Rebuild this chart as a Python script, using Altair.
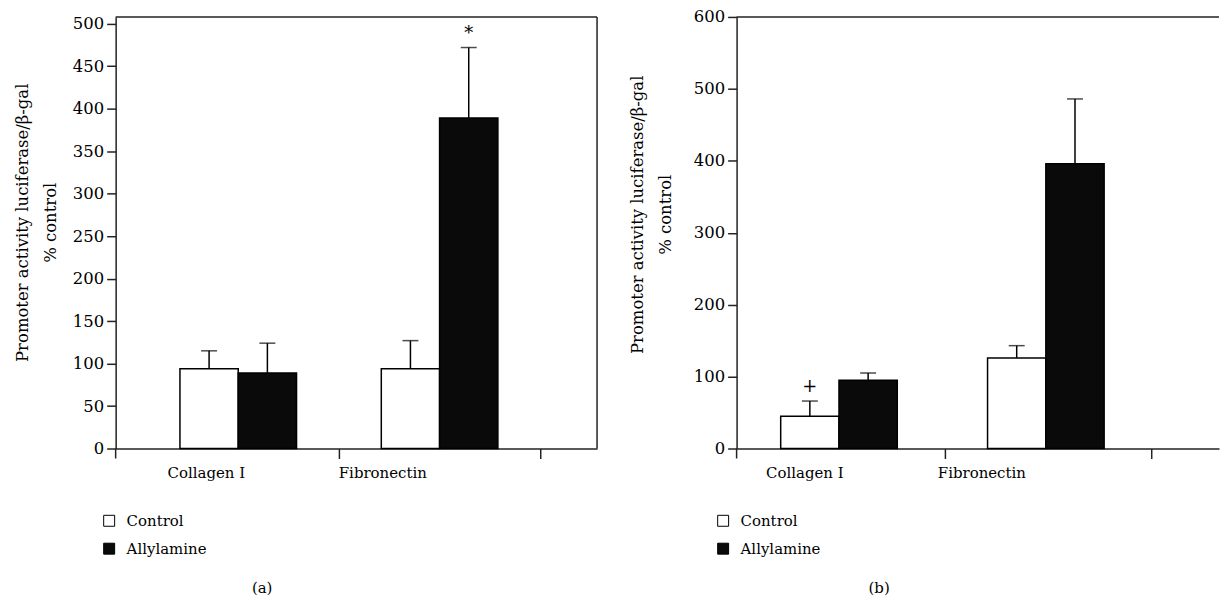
import altair as alt
import pandas as pd

FONT = "DejaVu Serif"

categories = ["Collagen I", "Collagen I", "Fibronectin", "Fibronectin"]
treatments = ["Control", "Allylamine", "Control", "Allylamine"]

a_means = [94, 89, 94, 389]
a_upper = [115, 124, 127, 472]
a_marks = ["", "", "", "*"]

b_means = [45, 95, 126, 396]
b_upper = [66, 105, 143, 486]
b_marks = ["+", "", "", ""]

a_ticks = [0, 50, 100, 150, 200, 250, 300, 350, 400, 450, 500]
b_ticks = [0, 100, 200, 300, 400, 500, 600]

y_title = ["Promoter activity luciferase/β-gal", "% control"]
cat_order = ["Collagen I", "Fibronectin"]
trt_order = ["Control", "Allylamine"]
fill_colors = ["white", "#0a0a0a"]

H = 433


def panel(means, upper, marks, ymax, ticks, width, pad_outer, align,
          off_coll, off_fib, leg_x, caption, cap_x, title_pad, title_y):
    df = pd.DataFrame({"category": categories, "treatment": treatments,
                       "mean": means, "upper": upper, "mark": marks})
    xs = alt.Scale(paddingInner=0, paddingOuter=pad_outer, align=align)
    x = alt.X("category:N", sort=cat_order, scale=xs,
              axis=alt.Axis(title=None, bandPosition=1, labelAngle=0,
                            labelOffset={"condition": {"test": "datum.value === 'Collagen I'",
                                                       "value": off_coll},
                                         "value": off_fib},
                            tickSize=10, labelPadding=7, labelFontSize=15))
    xo = alt.XOffset("treatment:N", sort=trt_order,
                     scale=alt.Scale(paddingInner=0, paddingOuter=0.727))
    yaxis = alt.Axis(values=ticks, title=y_title, tickSize=9, labelPadding=3,
                     titlePadding=title_pad, titleLineHeight=28, titleY=title_y,
                     labelFontSize=16.5, titleFontSize=16.5)
    ys = alt.Scale(domain=[0, ymax], nice=False)
    y = alt.Y("mean:Q", scale=ys, axis=yaxis)
    base = alt.Chart(df)
    bars = base.mark_bar(stroke="black", strokeWidth=1.5).encode(
        x=x, xOffset=xo, y=y,
        fill=alt.Fill("treatment:N", sort=trt_order,
                      scale=alt.Scale(domain=trt_order, range=fill_colors),
                      legend=alt.Legend(title=None, orient="none", legendX=leg_x, legendY=498,
                                        symbolType="square", symbolSize=121,
                                        symbolStrokeColor="black", symbolStrokeWidth=1,
                                        labelFont=FONT, labelFontSize=15, labelColor="black",
                                        labelOffset=10, rowPadding=12, padding=0)))
    err = base.mark_rule(color="black", strokeWidth=1.5).encode(
        x=x, xOffset=xo, y=alt.Y("mean:Q", scale=ys, axis=yaxis), y2="upper:Q")
    caps = base.mark_tick(color="black", thickness=1.5, size=16, orient="horizontal").encode(
        x=x, xOffset=xo, y=alt.Y("upper:Q", scale=ys, axis=yaxis))
    ann = base.mark_text(font=FONT, fontSize=18, baseline="alphabetic", dy=-9, color="black").encode(
        x=x, xOffset=xo, y=alt.Y("upper:Q", scale=ys, axis=yaxis), text="mark:N")
    one = alt.Chart(pd.DataFrame({"k": [0]}))
    top = one.mark_rule(color="#222", strokeWidth=1.5).encode(
        x=alt.value(0), x2=alt.value(width), y=alt.value(0))
    corner = one.mark_rule(color="#222", strokeWidth=1.5).encode(
        x=alt.value(0), y=alt.value(H), y2=alt.value(H + 10))
    cap = one.mark_text(font=FONT, fontSize=15, color="black").encode(
        x=alt.value(cap_x), y=alt.value(573), text=alt.value(caption))
    layers = [bars, err, caps, ann, top, corner, cap]
    if caption == "(a)":
        right = one.mark_rule(color="#222", strokeWidth=1.5).encode(
            x=alt.value(width), y=alt.value(0), y2=alt.value(H))
        layers.append(right)
    return alt.layer(*layers).properties(width=width, height=H)


pa = panel(a_means, a_upper, a_marks, 508, a_ticks, 483, 0.1955, 0.2785,
           -32, -57, -14, "(a)", 147, 14, 206)
pb = panel(b_means, b_upper, b_marks, 600, b_ticks, 484, 0.166, 0.025,
           -37, -67, -21, "(b)", 143, 20, 198)

chart = alt.hconcat(pa, pb, spacing=31).resolve_scale(fill="independent").properties(
    padding={"left": 6, "top": 0, "right": 0, "bottom": 0}
).configure_view(stroke=None).configure_axis(
    labelFont=FONT, titleFont=FONT,
    labelColor="black", titleColor="black", titleFontWeight="normal",
    domainColor="#222", tickColor="#222", domainWidth=1.5, tickWidth=1.5, grid=False
)

chart.save("out.html", embed_options={"renderer": "svg", "actions": False})
